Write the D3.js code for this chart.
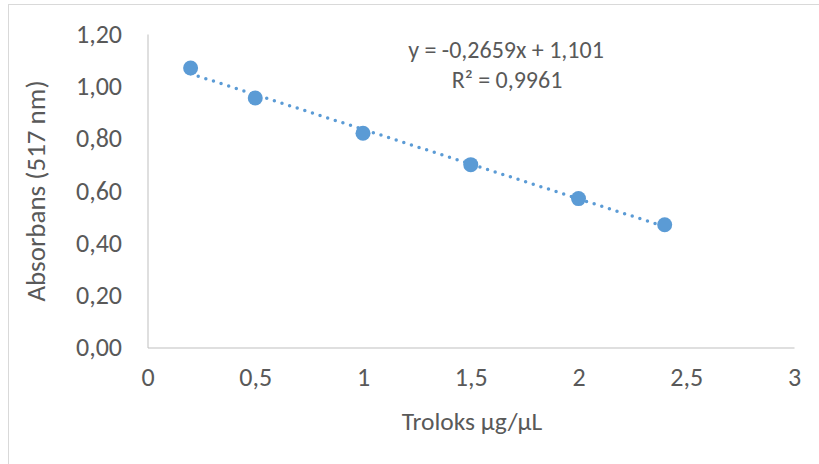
<!DOCTYPE html>
<html>
<head>
<meta charset="utf-8">
<script src="https://cdn.jsdelivr.net/npm/d3@7"></script>
<style>
  html, body { margin: 0; padding: 0; background: #fff; }
  svg { display: block; }
  text { font-family: Carlito, Lato, "Open Sans", sans-serif; fill: #595959; }
</style>
</head>
<body>
<svg id="chart" width="819" height="464"></svg>
<script>
const xValues = [0.2, 0.5, 1, 1.5, 2, 2.4];
const yValues = [1.07, 0.955, 0.82, 0.70, 0.57, 0.47];
const xTicks = [0, 0.5, 1, 1.5, 2, 2.5, 3];
const yTicks = [0, 0.2, 0.4, 0.6, 0.8, 1.0, 1.2];
const slope = -0.2659, intercept = 1.101;
const equationText = "y = -0,2659x + 1,101";
const r2Text = "R² = 0,9961";
const xTitle = "Troloks µg/µL";
const yTitle = "Absorbans (517 nm)";

const svg = d3.select("#chart");
const fmtComma = (d, dec) => d.toFixed(dec).replace(".", ",");
const FONT = "Carlito, Lato, 'Open Sans', sans-serif";

// outer border
svg.append("rect").attr("x", 8.5).attr("y", 4.5).attr("width", 830).attr("height", 480)
  .attr("fill", "none").attr("stroke", "#d9d9d9").attr("stroke-width", 1);

const pLeft = 147.5, pRight = 794, pTop = 34, pBottom = 347.5;
const x = d3.scaleLinear().domain([0, 3]).range([pLeft, pRight]);
const y = d3.scaleLinear().domain([0, 1.2]).range([pBottom, pTop]);

// axes
const yAxis = d3.axisLeft(y).tickValues(yTicks).tickSize(0).tickPadding(25.5)
  .tickFormat(d => fmtComma(d, 2));
const gy = svg.append("g").attr("transform", `translate(${pLeft},0)`).call(yAxis)
  .attr("font-size", 26).attr("font-family", FONT);
gy.select(".domain").attr("stroke", "#bfbfbf");
gy.selectAll("text").attr("fill", "#595959");

const xAxis = d3.axisBottom(x).tickValues(xTicks).tickSize(0).tickPadding(20)
  .tickFormat(d => String(d).replace(".", ","));
const gx = svg.append("g").attr("transform", `translate(0,${pBottom})`).call(xAxis)
  .attr("font-size", 26).attr("font-family", FONT);
gx.select(".domain").attr("stroke", "#bfbfbf");
gx.selectAll("text").attr("fill", "#595959");

// trendline
const xs = d3.extent(xValues);
svg.append("line")
  .attr("x1", x(xs[0])).attr("y1", y(slope * xs[0] + intercept))
  .attr("x2", x(xs[1])).attr("y2", y(slope * xs[1] + intercept))
  .attr("stroke", "#5b9bd5").attr("stroke-width", 3.5)
  .attr("stroke-linecap", "round").attr("stroke-dasharray", "0,8");

// points
svg.append("g").selectAll("circle").data(xValues).join("circle")
  .attr("cx", d => x(d)).attr("cy", (d, i) => y(yValues[i]))
  .attr("r", 7.5).attr("fill", "#5b9bd5");

// equation
svg.append("text").attr("x", 506).attr("y", 58).attr("text-anchor", "middle")
  .style("font-size", "24px").text(equationText);
svg.append("text").attr("x", 507).attr("y", 88).attr("text-anchor", "middle")
  .style("font-size", "24px").text(r2Text);

// axis titles
svg.append("text").attr("x", 472).attr("y", 430).attr("text-anchor", "middle")
  .style("font-size", "25.5px").text(xTitle);
svg.append("text").attr("transform", `translate(45,191) rotate(-90)`)
  .attr("text-anchor", "middle").style("font-size", "27px").text(yTitle);
</script>
</body>
</html>
